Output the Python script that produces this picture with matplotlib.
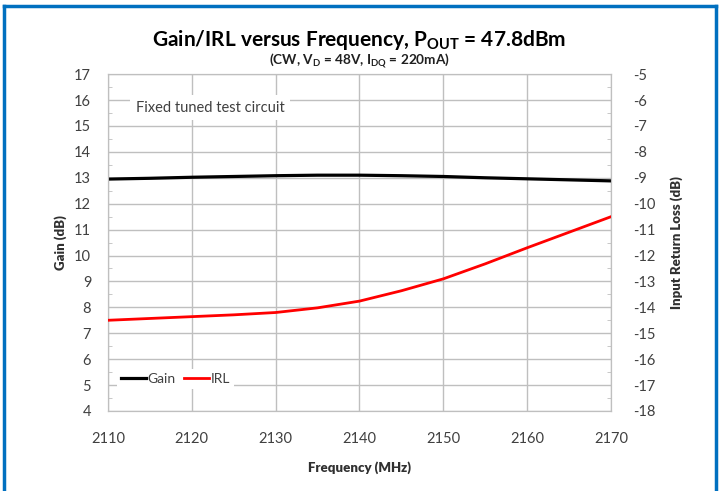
import matplotlib
matplotlib.use("Agg")
import matplotlib.pyplot as plt
from matplotlib.lines import Line2D

plt.rcParams['font.family'] = ['Lato', 'DejaVu Sans']
plt.rcParams['mathtext.fontset'] = 'custom'
plt.rcParams['mathtext.rm'] = 'Lato'
plt.rcParams['mathtext.bf'] = 'Lato:bold'
plt.rcParams['axes.unicode_minus'] = False

# Data
freq = [2110, 2115, 2120, 2125, 2130, 2135, 2140, 2145, 2150, 2155, 2160, 2165, 2170]
gain = [12.95, 12.98, 13.02, 13.05, 13.08, 13.10, 13.10, 13.08, 13.05, 13.00, 12.96, 12.92, 12.88]
irl = [-14.50, -14.43, -14.36, -14.29, -14.20, -14.02, -13.76, -13.36, -12.90, -12.32, -11.70, -11.10, -10.50]

gain_ticks = list(range(4, 18))
irl_ticks = list(range(-18, -4))
freq_ticks = list(range(2110, 2171, 10))

txt = '#404040'
grid_c = '#bfbfbf'

fig = plt.figure(figsize=(7.19, 4.91), dpi=100)
ax = fig.add_axes([0.150, 0.163, 0.700, 0.686])
ax2 = ax.twinx()

ax.plot(freq, gain, color='black', lw=2.3, zorder=3)
ax2.plot(freq, irl, color='#ff0000', lw=2.0, zorder=3)

ax.set_xlim(2110, 2170)
ax.set_ylim(4, 17)
ax2.set_ylim(-18, -5)
ax.set_xticks(freq_ticks)
ax.set_yticks(gain_ticks)
ax2.set_yticks(irl_ticks)
ax.set_yticks([v + 0.5 for v in gain_ticks[:-1]], minor=True)
ax2.set_yticks([v + 0.5 for v in irl_ticks[:-1]], minor=True)

ax.grid(True, which='major', color=grid_c, lw=1)
ax.set_axisbelow(True)
for a in (ax, ax2):
    for s in a.spines.values():
        s.set_color(grid_c)
    a.tick_params(which='major', length=0, labelsize=10.5, colors=txt, pad=12)
    a.tick_params(which='minor', direction='in', length=3, color=grid_c)
ax.tick_params(axis='x', pad=15)
ax2.tick_params(axis='y', pad=16)

ax.set_xlabel('Frequency (MHz)', fontsize=9.5, fontweight='heavy', color='#303030', labelpad=11)
ax.set_ylabel('Gain (dB)', fontsize=9.5, fontweight='heavy', color='#303030', labelpad=5)
ax2.set_ylabel('Input Return Loss (dB)', fontsize=9.5, fontweight='heavy', color='#303030', labelpad=10)

fig.text(0.500, 0.918, r'Gain/IRL versus Frequency, P$_\mathbf{OUT}$ = 47.8dBm',
         ha='center', va='center', fontsize=15, fontweight='bold')
fig.text(0.500, 0.876, r'(CW, V$_\mathbf{D}$ = 48V, I$_\mathbf{DQ}$ = 220mA)',
         ha='center', va='center', fontsize=9.8, fontweight='bold', color='#202020')

ax.text(2113.3, 15.7, 'Fixed tuned test circuit', fontsize=10.5, color=txt,
        va='center', ha='left', zorder=4,
        bbox=dict(facecolor='white', edgecolor='none', pad=4))

handles = [Line2D([], [], color='black', lw=2.3), Line2D([], [], color='#ff0000', lw=2.0)]
leg = ax.legend(handles, ['Gain', 'IRL'], loc='lower left', bbox_to_anchor=(0.005, 0.045),
                ncol=2, frameon=True, fontsize=10, handlelength=1.8, handletextpad=0.1,
                columnspacing=0.6, borderpad=0.3)
leg.get_frame().set_edgecolor('none')
leg.get_frame().set_facecolor('white')
leg.get_frame().set_alpha(1)
for t in leg.get_texts():
    t.set_color(txt)
leg.set_zorder(5)

# blue frame around the picture
blue = '#0070c0'
fig.add_artist(Line2D([0.0062, 0.0062], [0, 0.988], color=blue, lw=2.5, transform=fig.transFigure))
fig.add_artist(Line2D([0.0062, 0.9965], [0.988, 0.988], color=blue, lw=2.5, transform=fig.transFigure))
fig.add_artist(Line2D([0.9965, 0.9965], [0, 0.988], color=blue, lw=2.5, transform=fig.transFigure))

fig.savefig('out.png', dpi=100)
